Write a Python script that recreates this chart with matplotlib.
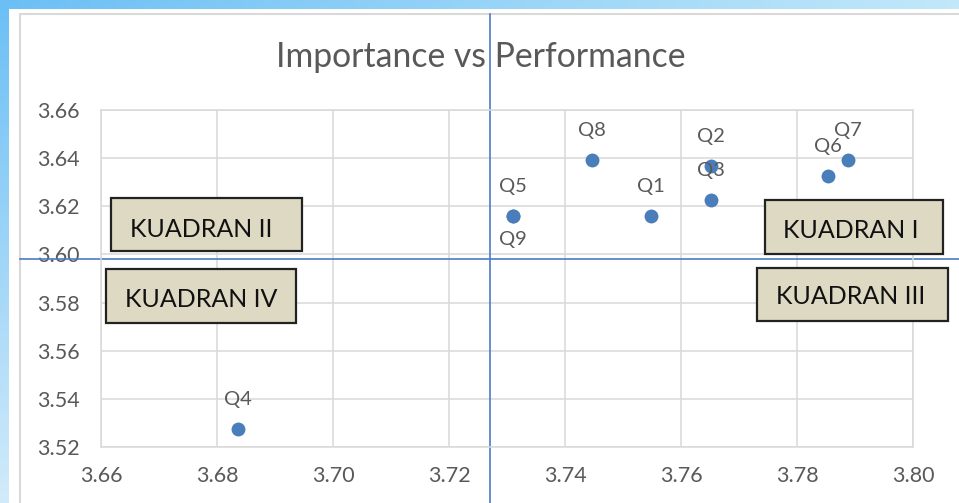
import numpy as np
import matplotlib.pyplot as plt
from matplotlib.patches import Rectangle

# --- data ---
labels = ["Q1", "Q2", "Q3", "Q4", "Q5", "Q6", "Q7", "Q8", "Q9"]
importance = [3.7548, 3.7651, 3.7651, 3.6836, 3.7310, 3.7854, 3.7888, 3.7446, 3.7310]
performance = [3.6159, 3.6367, 3.6225, 3.5275, 3.6159, 3.6325, 3.6392, 3.6392, 3.6159]
labels_below = ["Q9"]

mean_importance = 3.727
mean_performance = 3.598

x_ticks = [3.66, 3.68, 3.70, 3.72, 3.74, 3.76, 3.78, 3.80]
y_ticks = [3.52, 3.54, 3.56, 3.58, 3.60, 3.62, 3.64, 3.66]

quadrant_names = ["KUADRAN I", "KUADRAN II", "KUADRAN III", "KUADRAN IV"]

TITLE = "Importance vs Performance"

# --- figure setup ---
W, H = 959, 503
plt.rcParams['font.family'] = ['Lato', 'DejaVu Sans']
fig = plt.figure(figsize=(W / 100, H / 100), dpi=100)


def fx(x):
    return x / W


def fy(y):
    return 1 - y / H


# background gradient (slide behind the chart)
bg = fig.add_axes([0, 0, 1, 1], zorder=-10)
tl = np.array([0.42, 0.75, 0.96])
tr = np.array([0.76, 0.91, 0.98])
bl = np.array([0.82, 0.92, 0.98])
br = np.array([0.92, 0.96, 0.99])
u = np.linspace(0, 1, 200)[None, :, None]
v = np.linspace(0, 1, 100)[:, None, None]
grad = (1 - v) * ((1 - u) * tl + u * tr) + v * ((1 - u) * bl + u * br)
bg.imshow(grad, aspect='auto', extent=[0, 1, 0, 1])
bg.axis('off')

# white chart panel + thin grey chart border
fig.patches.append(Rectangle((fx(9), fy(520)), fx(960), 520 / H - 9 / H,
                             transform=fig.transFigure, fc='white', ec='none', zorder=-5))
fig.patches.append(Rectangle((fx(20), fy(520)), fx(960), 520 / H - 14 / H,
                             transform=fig.transFigure, fc='none', ec='#d9d9d9', lw=1.5, zorder=-4))

# --- plot area ---
ax = fig.add_axes([fx(101), fy(447), (913 - 101) / W, (447 - 110) / H])
ax.set_facecolor('none')
ax.set_xlim(x_ticks[0], x_ticks[-1])
ax.set_ylim(y_ticks[0], y_ticks[-1])
ax.set_xticks(x_ticks)
ax.set_yticks(y_ticks)
ax.set_xticklabels([f"{t:.2f}" for t in x_ticks])
ax.set_yticklabels([f"{t:.2f}" for t in y_ticks])
ax.tick_params(length=0, labelsize=15.5, colors='#595959')
ax.tick_params(axis='y', pad=15.5)
ax.tick_params(axis='x', pad=14)
ax.grid(True, color='#d9d9d9', lw=1.1, zorder=0)
for sp in ax.spines.values():
    sp.set_color('#d9d9d9')
    sp.set_linewidth(1.1)
ax.set_axisbelow(True)

# quadrant divider lines, running past the plot area like the drawn shapes
ax.axvline(mean_importance, ymin=-0.17, ymax=(447 - 14) / 337, color='#4a7cc4',
           lw=1.2, clip_on=False, zorder=2)
ax.axhline(mean_performance, xmin=(20 - 101) / 812, xmax=1.06, color='#4a7cc4',
           lw=1.2, clip_on=False, zorder=2)

# points + data labels
ax.scatter(importance, performance, s=100, color='#4a7ebb', zorder=3, linewidths=0)
for lab, x, y in zip(labels, importance, performance):
    dy = -17 if lab in labels_below else 21.5
    ax.annotate(lab, (x, y), xytext=(0, dy), textcoords='offset points',
                ha='center', va='center', fontsize=14.5, color='#595959', zorder=4)

# title
fig.text(fx(481), fy(67), TITLE, ha='center', va='baseline', fontsize=24.3, color='#595959')

# quadrant boxes (pixel layout: left, top, right, bottom, text x, text baseline)
box_layout = {
    "KUADRAN I": (765, 200, 943, 254, 851, 238),
    "KUADRAN II": (111, 198, 302, 251, 201, 237),
    "KUADRAN III": (757, 268, 948, 321, 851, 304),
    "KUADRAN IV": (106, 269, 296, 323, 201, 307),
}
for name in quadrant_names:
    l, t, r, b, tx, ty = box_layout[name]
    fig.patches.append(Rectangle((fx(l), fy(b)), (r - l) / W, (b - t) / H,
                                 transform=fig.transFigure, fc='#ddd9c3', ec='#222222',
                                 lw=1.6, zorder=5))
    fig.text(fx(tx), fy(ty), name, ha='center', va='baseline', fontsize=18,
             color='#111111', zorder=6)

fig.savefig('out.png', dpi=100)
